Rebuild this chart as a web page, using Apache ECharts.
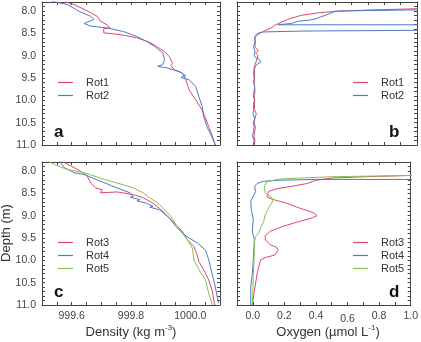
<!DOCTYPE html>
<html><head><meta charset="utf-8">
<script src="https://cdn.jsdelivr.net/npm/echarts@6/dist/echarts.min.js"></script>
<style>html,body{margin:0;padding:0;background:#fff}#c{width:421px;height:342px}</style>
</head><body><div id="c"></div>
<script>
// ---- tick labels ----
const depthLabels = [8.0, 8.5, 9.0, 9.5, 10.0, 10.5, 11.0];
const densityLabels = [999.6, 999.8, 1000.0];
const oxygenLabels = [0.0, 0.2, 0.4, 0.6, 0.8, 1.0];

// ---- data: [value, depth] ----
const rot1Density = [[999.58,7.8],[999.609,7.86],[999.653,8.0],[999.686,8.12],[999.697,8.23],[999.719,8.31],[999.73,8.38],[999.708,8.40],[999.708,8.49],[999.764,8.53],[999.819,8.60],[999.863,8.70],[999.885,8.79],[999.913,8.91],[999.929,9.02],[999.94,9.17],[999.935,9.22],[999.946,9.32],[999.973,9.39],[999.985,9.54],[999.996,9.77],[1000.018,9.99],[1000.04,10.22],[1000.051,10.40],[1000.062,10.59],[1000.073,10.78],[1000.082,10.96],[1000.084,11.0]];
const rot2Density = [[999.532,7.78],[999.587,7.86],[999.625,8.01],[999.664,8.12],[999.675,8.19],[999.642,8.28],[999.664,8.34],[999.719,8.38],[999.774,8.46],[999.819,8.57],[999.852,8.68],[999.879,8.79],[999.907,8.94],[999.913,9.09],[999.907,9.20],[999.89,9.24],[999.924,9.28],[999.962,9.35],[999.985,9.45],[999.968,9.49],[999.996,9.54],[1000.018,9.69],[1000.029,9.92],[1000.04,10.14],[1000.045,10.37],[1000.056,10.59],[1000.073,10.82],[1000.082,10.96],[1000.084,11.0]];
const rot1Oxygen = [[0.005,11.0],[0.01,10.9],[0.003,10.8],[0.008,10.7],[0.012,10.6],[0.005,10.5],[0.01,10.4],[0.018,10.3],[0.006,10.2],[0.008,10.0],[0.004,9.9],[0.01,9.8],[0.005,9.6],[0.008,9.4],[0.004,9.3],[0.01,9.2],[0.02,9.1],[0.028,9.0],[0.015,8.95],[0.03,8.9],[0.02,8.85],[0.01,8.8],[0.012,8.7],[0.01,8.6],[0.02,8.55],[0.04,8.5],[0.065,8.45],[0.09,8.41],[0.11,8.38],[0.115,8.34],[0.13,8.32],[0.14,8.28],[0.21,8.19],[0.29,8.1],[0.4,8.04],[0.5,8.01],[0.7,7.98],[1.0,7.95],[1.15,7.93]];
const rot2Oxygen = [[0.0,11.0],[0.005,10.9],[-0.005,10.8],[0.0,10.7],[0.005,10.6],[0.0,10.5],[0.008,10.4],[-0.003,10.3],[0.003,10.2],[0.0,10.1],[0.006,10.0],[0.0,9.9],[0.004,9.8],[0.008,9.7],[0.002,9.6],[0.005,9.5],[0.0,9.4],[0.006,9.3],[0.012,9.25],[0.02,9.2],[0.045,9.15],[0.05,9.12],[0.035,9.08],[0.015,9.05],[0.005,9.0],[0.01,8.9],[0.0,8.8],[0.01,8.7],[0.008,8.6],[0.012,8.55],[0.025,8.5],[0.06,8.47],[0.3,8.45],[1.15,8.43],[1.15,8.31],[0.151,8.31],[0.233,8.28],[0.274,8.23],[0.335,8.21],[0.376,8.18],[0.438,8.10],[0.479,8.04],[0.499,8.01],[0.52,8.0],[1.15,7.97]];
const rot3Density = [[999.565,7.78],[999.598,7.89],[999.631,8.01],[999.653,8.12],[999.664,8.27],[999.681,8.38],[999.703,8.42],[999.697,8.49],[999.753,8.47],[999.808,8.53],[999.841,8.60],[999.874,8.72],[999.902,8.87],[999.924,9.02],[999.951,9.20],[999.973,9.35],[999.99,9.54],[1000.012,9.69],[1000.023,9.88],[1000.029,10.03],[1000.045,10.21],[1000.062,10.44],[1000.073,10.66],[1000.081,10.96],[1000.082,11.0]];
const rot4Density = [[999.559,7.78],[999.576,7.93],[999.609,8.04],[999.642,8.08],[999.697,8.23],[999.753,8.38],[999.797,8.49],[999.808,8.57],[999.797,8.59],[999.83,8.64],[999.82,8.67],[999.852,8.72],[999.874,8.79],[999.863,8.81],[999.896,8.87],[999.929,9.05],[999.951,9.24],[999.973,9.39],[999.996,9.50],[1000.023,9.61],[1000.051,9.77],[1000.062,9.99],[1000.073,10.29],[1000.084,10.59],[1000.095,10.96]];
const rot5Density = [[999.52,7.78],[999.542,7.86],[999.587,7.97],[999.642,8.04],[999.697,8.16],[999.753,8.27],[999.808,8.38],[999.841,8.49],[999.863,8.60],[999.891,8.72],[999.913,8.87],[999.935,9.02],[999.951,9.20],[999.973,9.39],[999.99,9.54],[1000.007,9.73],[1000.012,9.99],[1000.029,10.21],[1000.051,10.44],[1000.062,10.74],[1000.073,10.96],[1000.074,11.0]];
const rot3Oxygen = [[-0.003,11.0],[0.008,10.74],[0.018,10.51],[0.028,10.29],[0.044,10.06],[0.05,9.99],[0.079,9.94],[0.141,9.88],[0.161,9.77],[0.147,9.70],[0.11,9.65],[0.079,9.54],[0.079,9.45],[0.11,9.35],[0.192,9.24],[0.295,9.13],[0.376,9.05],[0.407,9.0],[0.387,8.94],[0.356,8.90],[0.295,8.83],[0.212,8.72],[0.13,8.64],[0.089,8.58],[0.079,8.55],[0.10,8.46],[0.151,8.40],[0.253,8.34],[0.346,8.28],[0.397,8.21],[0.499,8.16],[0.704,8.13],[1.01,8.10],[1.15,8.09]];
const rot4Oxygen = [[-0.013,11.0],[-0.013,10.59],[-0.003,10.29],[0.003,9.99],[0.008,9.69],[0.01,9.54],[-0.003,9.35],[0.003,9.09],[-0.009,8.87],[-0.013,8.68],[0.003,8.57],[0.018,8.46],[0.012,8.34],[0.028,8.28],[0.069,8.23],[0.151,8.21],[0.397,8.19],[1.15,8.19]];
const rot5Oxygen = [[-0.003,11.0],[0.0,10.74],[0.003,10.36],[0.008,9.99],[0.01,9.61],[0.018,9.47],[0.038,9.39],[0.049,9.28],[0.069,9.13],[0.079,8.98],[0.10,8.83],[0.12,8.72],[0.13,8.63],[0.11,8.57],[0.079,8.49],[0.073,8.38],[0.079,8.28],[0.10,8.23],[0.172,8.18],[0.295,8.16],[0.499,8.13],[1.01,8.10],[1.15,8.09]];

const RED = '#e2466a', BLUE = '#4b7bc3', GREEN = '#86c04f';
const AX = '#444', LBL = '#444';
const FONT = 'Liberation Sans, Arial, sans-serif';

const grids = [
  {left: 42, top: 2, width: 178, height: 143},
  {left: 237, top: 2, width: 180, height: 143},
  {left: 42, top: 162, width: 178, height: 143},
  {left: 237, top: 162, width: 180, height: 143}
];
const isDensity = [true, false, true, false];
const showX = [false, false, true, true];
const showY = [true, false, true, false];

function near(v, list) { return list.some(t => Math.abs(v - t) < 1e-6); }

const xAxes = [], yAxes = [];
grids.forEach((g, i) => {
  const dens = isDensity[i];
  const xBase = {
    gridIndex: i, type: 'value',
    min: dens ? 999.5 : -0.1, max: dens ? 1000.1 : 1.0, interval: dens ? 0.05 : 0.1,
    axisLine: {show: true, onZero: false, lineStyle: {color: AX, width: 1}},
    axisTick: {show: true, inside: true, length: 3, lineStyle: {color: AX}},
    splitLine: {show: false}
  };
  xAxes.push(Object.assign({}, xBase, {
    position: 'bottom',
    axisLabel: {show: showX[i], color: LBL, fontSize: 10.5, fontFamily: FONT, margin: 6,
      showMinLabel: true, showMaxLabel: true,
      rich: {low: {color: LBL, fontSize: 10.5, fontFamily: FONT, padding: [3, 0, 0, 0]}},
      formatter: v => {
        const list = dens ? densityLabels : oxygenLabels;
        if (!near(v, list)) return '';
        if (!dens && Math.abs(v - 0.6) < 1e-6) return '{low|' + v.toFixed(1) + '}';
        return v.toFixed(1);
      }}
  }));
  xAxes.push(Object.assign({}, xBase, {position: 'top', axisLabel: {show: false}}));
  const yBase = {
    gridIndex: i, type: 'value', inverse: true, min: 7.8, max: 11.0, interval: 0.1,
    axisLine: {show: true, onZero: false, lineStyle: {color: AX, width: 1}},
    axisTick: {show: true, inside: true, length: 3, lineStyle: {color: AX}},
    splitLine: {show: false}
  };
  yAxes.push(Object.assign({}, yBase, {
    position: 'left',
    axisLabel: {show: showY[i], color: LBL, fontSize: 10.5, fontFamily: FONT, margin: 6,
      formatter: v => near(v, depthLabels) ? v.toFixed(1) : ''}
  }));
  yAxes.push(Object.assign({}, yBase, {position: 'right', axisLabel: {show: false}}));
});

function line(name, data, color, gi) {
  return {name, type: 'line', data, xAxisIndex: 2 * gi, yAxisIndex: 2 * gi,
    symbol: 'none', showSymbol: false, clip: true, animation: false,
    lineStyle: {color, width: 1}, itemStyle: {color}};
}

const series = [
  line('Rot1', rot1Density, RED, 0), line('Rot2', rot2Density, BLUE, 0),
  line('Rot1', rot1Oxygen, RED, 1), line('Rot2', rot2Oxygen, BLUE, 1),
  line('Rot3', rot3Density, RED, 2), line('Rot4', rot4Density, BLUE, 2), line('Rot5', rot5Density, GREEN, 2),
  line('Rot3', rot3Oxygen, RED, 3), line('Rot4', rot4Oxygen, BLUE, 3), line('Rot5', rot5Oxygen, GREEN, 3)
];

function legend(names, left, top) {
  return {data: names, left, top, orient: 'vertical', icon: 'rect', itemWidth: 15, itemHeight: 1.2, itemGap: 0,
    selectedMode: false, textStyle: {color: '#333', fontSize: 11, fontFamily: FONT, lineHeight: 13, padding: [0, 0, 0, 8]}};
}

const letters = [['a', 54, 124], ['b', 389, 124], ['c', 54, 284], ['d', 389, 284]];
const graphic = letters.map(([t, x, y]) => ({type: 'text', left: x, top: y,
  style: {text: t, fill: '#111', font: 'bold 17px ' + FONT}}));
graphic.push({type: 'text', x: 6, y: 233, rotation: Math.PI / 2,
  style: {text: 'Depth (m)', fill: '#333', font: '13px ' + FONT, align: 'center', verticalAlign: 'middle'}});
graphic.push({type: 'text', x: 131, y: 332,
  style: {text: 'Density (kg m{s|-3})', fill: '#333', font: '13px ' + FONT, align: 'center', verticalAlign: 'middle',
    rich: {s: {fontSize: 8, fontFamily: FONT, fill: '#333', verticalAlign: 'top', padding: [0, 0, 8, 0]}}}});
graphic.push({type: 'text', x: 328, y: 332,
  style: {text: 'Oxygen (µmol L{s|-1})', fill: '#333', font: '13px ' + FONT, align: 'center', verticalAlign: 'middle',
    rich: {s: {fontSize: 8, fontFamily: FONT, fill: '#333', verticalAlign: 'top', padding: [0, 0, 8, 0]}}}});

const chart = echarts.init(document.getElementById('c'), null, {renderer: 'canvas'});
chart.setOption({
  animation: false,
  backgroundColor: '#fff',
  grid: grids,
  xAxis: xAxes,
  yAxis: yAxes,
  legend: [legend(['Rot1', 'Rot2'], 53, 71), legend(['Rot1', 'Rot2'], 348, 71),
           legend(['Rot3', 'Rot4', 'Rot5'], 53, 231), legend(['Rot3', 'Rot4', 'Rot5'], 348, 231)],
  graphic,
  series
});
</script></body></html>
